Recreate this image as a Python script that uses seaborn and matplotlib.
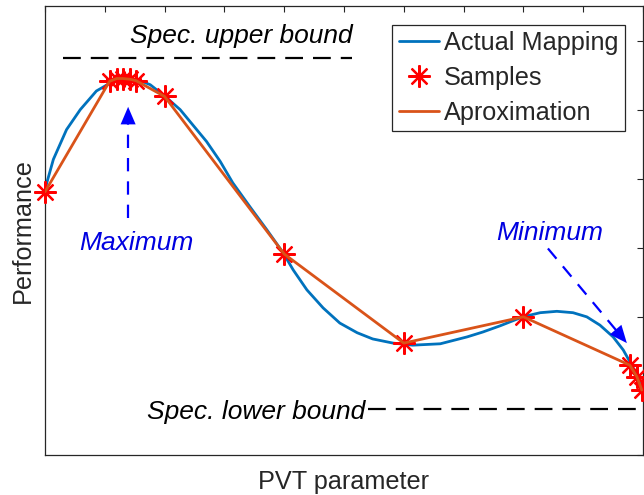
import numpy as np
import pandas as pd
import matplotlib
matplotlib.use("Agg")
import matplotlib.pyplot as plt
import seaborn as sns

# ---- data ----
actual_x = [0.0, 0.03, 0.14, 0.36, 0.59, 0.86, 1.14, 1.37, 1.59, 1.76, 2.01, 2.26,
            2.47, 2.70, 2.93, 3.14, 3.43, 3.71, 3.98, 4.15, 4.38, 4.65, 4.93,
            5.22, 5.48, 5.82, 6.15, 6.61, 7.06, 7.32, 7.61, 7.99, 8.28, 8.56,
            8.83, 9.06, 9.28, 9.50, 9.67, 9.78, 9.90, 10.0]
actual_y = [3.81, 3.94, 4.28, 4.71, 5.00, 5.27, 5.41, 5.45, 5.42, 5.36, 5.19, 5.00,
            4.78, 4.54, 4.25, 3.94, 3.59, 3.26, 2.93, 2.68, 2.39, 2.13, 1.91,
            1.77, 1.68, 1.62, 1.59, 1.61, 1.71, 1.78, 1.87, 2.00, 2.06, 2.08,
            2.06, 2.00, 1.88, 1.71, 1.52, 1.35, 1.16, 0.99]

sample_x = [0.0, 1.08, 1.20, 1.30, 1.42, 1.52, 2.0, 4.0, 6.0, 8.0, 9.78, 9.90, 9.98]
sample_y = [3.81, 5.41, 5.45, 5.45, 5.44, 5.42, 5.19, 2.91, 1.62, 2.00, 1.30, 1.13, 0.94]

upper_bound_x = [0.30, 5.13]
upper_bound_y = [5.74, 5.74]
lower_bound_x = [5.40, 10.0]
lower_bound_y = [0.67, 0.67]

max_arrow_from = (1.39, 3.43)
max_arrow_to = (1.39, 5.04)
min_arrow_from = (8.41, 2.99)
min_arrow_to = (9.73, 1.62)

legend_labels = ["Actual Mapping", "Samples", "Aproximation"]

# ---- style ----
sns.set_style("white")
plt.rcParams["font.family"] = ["Liberation Sans", "DejaVu Sans"]

BLUE = "#0072BD"
ORANGE = "#D95319"
FS = 18.2
FS_IT = 19.0

fig = plt.figure(figsize=(6.44, 4.95), dpi=100)
ax = fig.add_axes([45 / 644, 40 / 495, 598 / 644, 449 / 495])

df_actual = pd.DataFrame({"x": actual_x, "y": actual_y})
df_samp = pd.DataFrame({"x": sample_x, "y": sample_y})

sns.lineplot(data=df_actual, x="x", y="y", ax=ax, color=BLUE, lw=2.0,
             estimator=None, sort=False, label=legend_labels[0], zorder=2)
ax.plot(df_samp["x"], df_samp["y"], linestyle="none", marker=(8, 2, 0),
        markersize=16, markeredgewidth=1.6, color="#FF0000",
        label=legend_labels[1], zorder=3, clip_on=False)
sns.lineplot(data=df_samp, x="x", y="y", ax=ax, color=ORANGE, lw=2.0,
             estimator=None, sort=False, label=legend_labels[2], zorder=4)

# spec bounds
ax.plot(upper_bound_x, upper_bound_y, color="black", lw=1.6, dashes=(8, 4.5))
ax.plot(lower_bound_x, lower_bound_y, color="black", lw=1.6, dashes=(8, 4.5))
ax.text(upper_bound_x[1] + 0.02, 6.06, "Spec. upper bound", ha="right", va="center",
        fontsize=FS_IT, style="italic", color="black")
ax.text(lower_bound_x[0] - 0.05, 0.62, "Spec. lower bound", ha="right", va="center",
        fontsize=FS_IT, style="italic", color="black")

# arrows
for (p0, p1) in [(max_arrow_from, max_arrow_to), (min_arrow_from, min_arrow_to)]:
    x0, y0 = p0
    x1, y1 = p1
    t = 0.88
    ax.plot([x0, x0 + t * (x1 - x0)], [y0, y0 + t * (y1 - y0)], color="blue",
            lw=1.6, dashes=(6, 4.5))
    ax.annotate("", xy=(x1, y1), xytext=(x0 + 0.8 * (x1 - x0), y0 + 0.8 * (y1 - y0)),
                arrowprops=dict(arrowstyle="-|>,head_length=0.7,head_width=0.3",
                                color="blue", lw=0.01, shrinkA=0, shrinkB=0,
                                mutation_scale=18))

ax.text(1.52, 3.07, "Maximum", ha="center", va="center", fontsize=FS_IT,
        style="italic", color="#0000E0")
ax.text(8.44, 3.22, "Minimum", ha="center", va="center", fontsize=FS_IT,
        style="italic", color="#0000E0")

# axes
ax.set_xlim(0, 10)
ax.set_ylim(0, 6.5)
ax.set_xticks(np.arange(0, 11, 1))
ax.set_yticks(np.arange(0, 7, 1))
ax.tick_params(direction="in", top=True, right=True, length=4.5, width=0.8,
               color="#262626", labelleft=False, labelbottom=False)
for s in ax.spines.values():
    s.set_color("#262626")
    s.set_linewidth(0.9)
ax.set_xlabel("PVT parameter", fontsize=FS, color="#262626", labelpad=11)
ax.set_ylabel("Performance", fontsize=FS, color="#262626", labelpad=7)

leg = ax.legend(loc="upper right", bbox_to_anchor=(0.970, 0.9577), borderaxespad=0,
                fontsize=FS, frameon=True, fancybox=False, framealpha=1,
                edgecolor="#262626", handlelength=1.6, handletextpad=0.2,
                labelspacing=0.42, borderpad=0.25)
leg.get_frame().set_linewidth(0.9)

fig.savefig("out.png", dpi=100)
